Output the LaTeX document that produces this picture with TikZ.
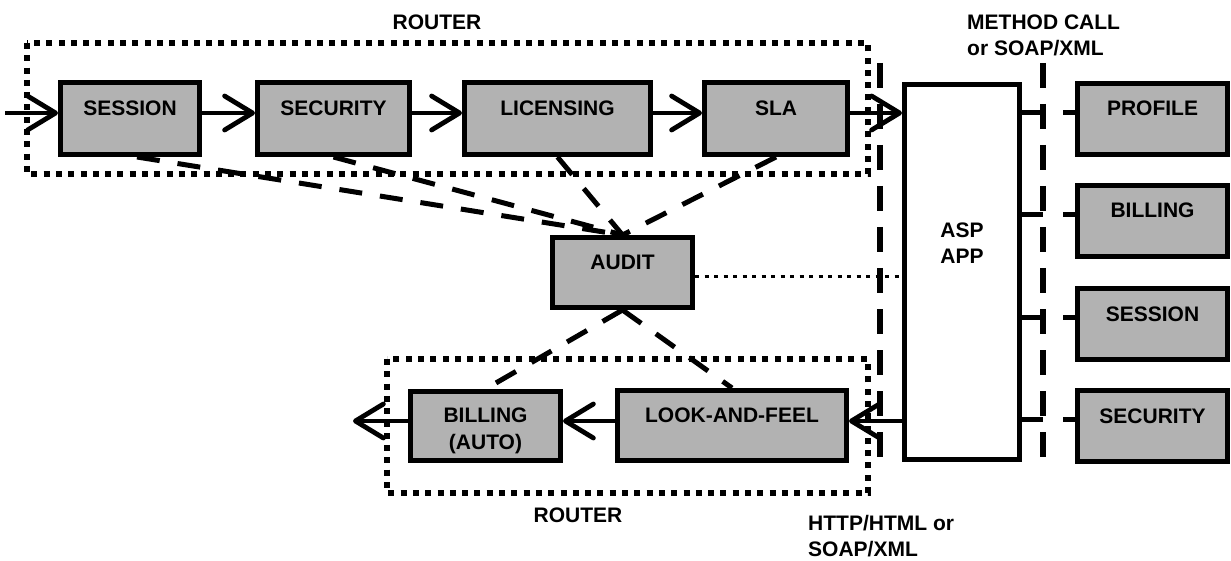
\documentclass[tikz,border=0pt]{standalone}
\usepackage{fontspec}
\setmainfont{Liberation Sans}
\usetikzlibrary{arrows.meta}
% two centred lines, first baseline raised by #1 above the box centre
\newcommand\boxlines[3]{\raisebox{#1}[0pt][0pt]{\begin{tabular}[t]{@{}c@{}}#2\\#3\end{tabular}}}
\begin{document}
\begin{tikzpicture}[x=1pt,y=-1pt,
  every node/.style={inner sep=0pt},
  txt/.style={font=\fontsize{21pt}{26.5pt}\selectfont\bfseries},
  box/.style={txt, draw, line width=5pt, fill=black!30, minimum height=72pt},
  oneline/.style={text height=0pt, text depth=6pt},
  flow/.style={line width=4.8pt, -{Straight Barb[length=28pt,width=34pt,round]}},
  link/.style={line width=4.5pt},
  tie/.style={line width=5pt, dash pattern=on 23pt off 18pt},
  divider/.style={line width=5.5pt, dash pattern=on 25pt off 16pt},
  region/.style={line width=5.5pt, dash pattern=on 6pt off 6.3pt},
  trace/.style={line width=3pt, dash pattern=on 4pt off 5.5pt}]
\useasboundingbox (0,0) rectangle (1231,561);

% router regions
\draw[region] (27,43) rectangle (868,174);
\draw[region] (387,359) rectangle (868,493);

% protocol boundaries
\coordinate (bt) at (880,63);  \coordinate (bb) at (880,467);
\coordinate (mct) at (1043,63); \coordinate (mcb) at (1043,467);
\draw[divider] (bt) -- (bb);
\draw[divider] (mct) -- (mcb);

% request pipeline
\node[box,oneline,minimum width=139pt] (sess) at (130,118.5) {SESSION};
\node[box,oneline,minimum width=152pt] (sec) at (333.5,118.5) {SECURITY};
\node[box,oneline,minimum width=186pt] (lic) at (557.5,118.5) {LICENSING};
\node[box,oneline,minimum width=143pt] (sla) at (776,118.5) {SLA};

% application
\node[box,fill=white,minimum width=115pt,minimum height=375pt] (asp) at (962,272) {\boxlines{34.5pt}{ASP}{APP}};

% services
\node[box,oneline,minimum width=150pt,minimum height=71pt] (prof) at (1152.5,119) {PROFILE};
\node[box,oneline,minimum width=150pt,minimum height=71pt] (bilr) at (1152.5,221) {BILLING};
\node[box,oneline,minimum width=150pt,minimum height=71pt] (sesr) at (1152.5,324) {SESSION};
\node[box,oneline,minimum width=150pt,minimum height=71pt] (secr) at (1152.5,426) {SECURITY};

% audit
\node[box,oneline,minimum width=140pt,minimum height=70pt] (audit) at (622.5,272.5) {AUDIT};

% response pipeline
\node[box,minimum width=150pt,minimum height=69pt] (bill) at (485.5,426) {\boxlines{3.5pt}{BILLING}{(AUTO)}};
\node[box,oneline,minimum width=229pt,minimum height=70pt] (lf) at (732,425.5) {LOOK-AND-FEEL};

% labels
\node[txt] (rtop) at (437,22) {ROUTER};
\node[txt] (rbot) at (578,515) {ROUTER};
\node[txt,anchor=north west,align=left] (mcall) at (967,14.5) {METHOD CALL\\or SOAP/XML};
\node[txt,anchor=north west,align=left] (http) at (808,515) {HTTP/HTML or\\SOAP/XML};

% request flow
\coordinate (src) at (5,113);
\draw[flow] (src) -- (src -| sess.west);
\draw[flow] ([yshift=5.5pt]sess.east) -- ([yshift=5.5pt]sec.west);
\draw[flow] ([yshift=5.5pt]sec.east) -- ([yshift=5.5pt]lic.west);
\draw[flow] ([yshift=5.5pt]lic.east) -- ([yshift=5.5pt]sla.west);
\coordinate (slaout) at ([yshift=5.5pt]sla.east);
\draw[flow] (slaout) -- (slaout -| asp.west);

% response flow
\coordinate (lfin) at ([yshift=4.5pt]lf.east);
\draw[flow] (lfin -| asp.west) -- (lfin);
\coordinate (lfout) at ([yshift=4.5pt]lf.west);
\draw[flow] (lfout) -- (lfout -| bill.east);
\coordinate (sink) at (353,421);
\draw[flow] (sink -| bill.west) -- (sink);

% service calls
\foreach \s in {prof,bilr,sesr,secr}{
  \coordinate (p-\s) at ([yshift=6.5pt]\s.west);
  \draw[link] (p-\s -| asp.east) -- (p-\s -| mct);
  \draw[link] ([xshift=-12pt]p-\s) -- (p-\s);
}

% audit links
\draw[tie] ([xshift=7pt]sess.south) -- (audit.north);
\draw[tie] (sec.south) -- (audit.north);
\draw[tie] (lic.south) -- (audit.north);
\draw[tie] (sla.south) -- (audit.north);
\draw[tie] (audit.south) -- (bill.north);
\draw[tie] (audit.south) -- (lf.north);
\coordinate (au) at ([yshift=-4.5pt]audit.east);
\draw[trace] (au) -- (au -| asp.west);
\end{tikzpicture}
\end{document}
